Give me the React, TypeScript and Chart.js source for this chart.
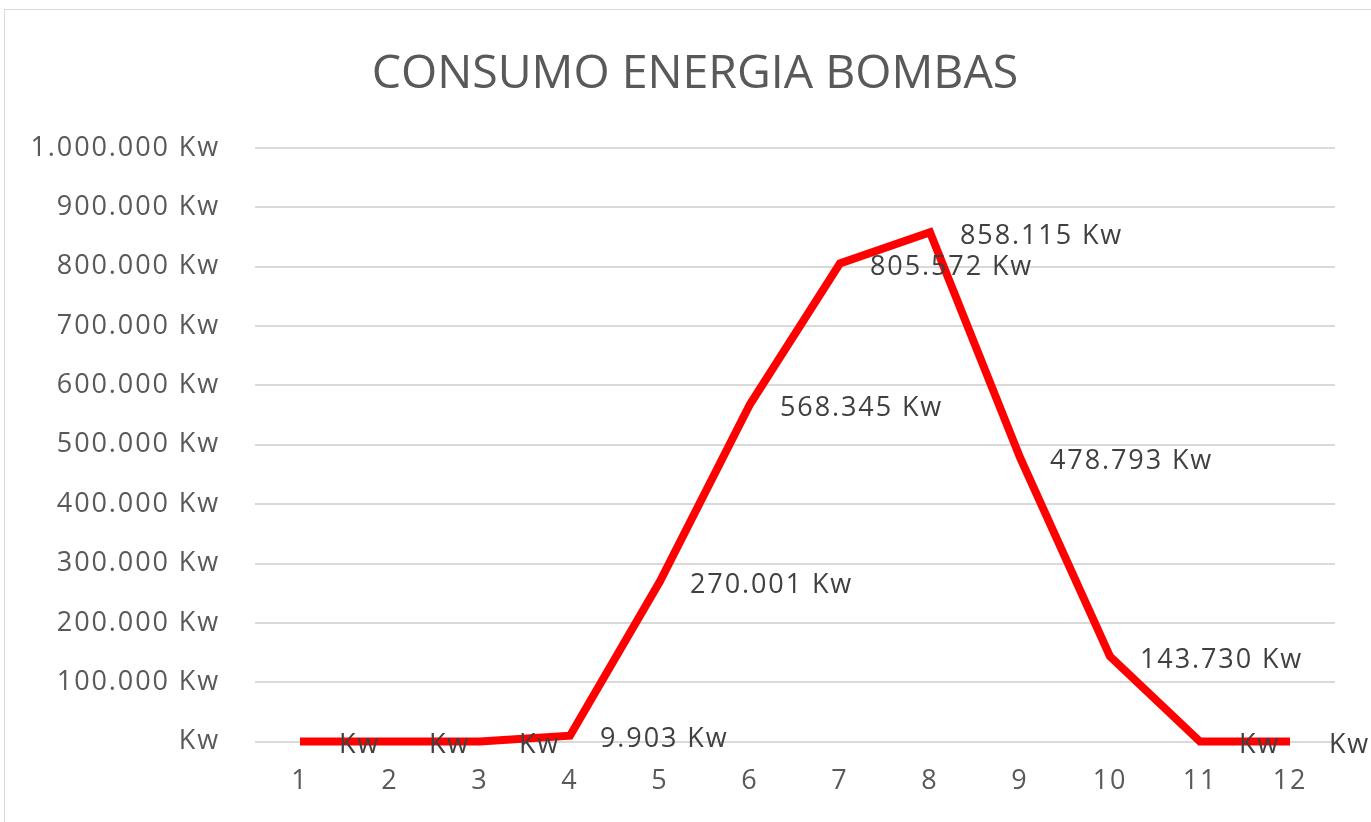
import React, { useEffect, useRef } from 'react';
import { Chart, registerables } from 'chart.js';

Chart.register(...registerables);

const categories = ['1', '2', '3', '4', '5', '6', '7', '8', '9', '10', '11', '12'];
const consumo = [0, 0, 0, 9903, 270001, 568345, 805572, 858115, 478793, 143730, 0, 0];
const yMin = 0;
const yMax = 1000000;
const yStep = 100000;
const unit = 'Kw';
const chartTitle = 'CONSUMO ENERGIA BOMBAS';

const LETTER_SPACING = '1.9px';
const FONT_FAMILY = '"Open Sans", "Noto Sans", sans-serif';
const TEXT_SIZE = 27;

function fmt(v: number): string {
  if (v === 0) return '';
  return String(Math.round(v)).replace(/\B(?=(\d{3})+(?!\d))/g, '.');
}

const customPlugin = {
  id: 'customDecor',
  beforeLayout(chart: any) {
    chart.ctx.letterSpacing = LETTER_SPACING;
  },
  beforeDraw(chart: any) {
    chart.ctx.letterSpacing = LETTER_SPACING;
  },
  afterDatasetsDraw(chart: any) {
    const ctx = chart.ctx;
    const meta = chart.getDatasetMeta(0);
    const values = chart.data.datasets[0].data as number[];
    ctx.save();
    ctx.letterSpacing = LETTER_SPACING;
    ctx.font = `${TEXT_SIZE}px ${FONT_FAMILY}`;
    ctx.fillStyle = '#404040';
    ctx.textAlign = 'left';
    ctx.textBaseline = 'middle';
    meta.data.forEach((pt: any, i: number) => {
      const text = `${fmt(values[i])} ${unit}`;
      ctx.fillText(text, pt.x + 30, pt.y + 4);
    });
    ctx.restore();
  },
  afterDraw(chart: any) {
    const ctx = chart.ctx;
    ctx.save();
    ctx.letterSpacing = '0px';
    ctx.font = `46.5px ${FONT_FAMILY}`;
    ctx.fillStyle = '#595959';
    ctx.textAlign = 'center';
    ctx.textBaseline = 'middle';
    ctx.fillText(chartTitle, 695, 75);
    ctx.restore();
  },
};

export default function App() {
  const canvasRef = useRef<HTMLCanvasElement | null>(null);

  useEffect(() => {
    const canvas = canvasRef.current;
    if (!canvas) return;
    const chart = new Chart(canvas, {
      type: 'line',
      data: {
        labels: categories,
        datasets: [
          {
            data: consumo,
            borderColor: '#ff0000',
            backgroundColor: '#ff0000',
            borderWidth: 8,
            borderJoinStyle: 'miter',
            borderCapStyle: 'butt',
            pointRadius: 0,
            pointHoverRadius: 0,
            tension: 0,
            fill: false,
            clip: false as any,
          },
        ],
      },
      options: {
        responsive: false,
        animation: false,
        devicePixelRatio: 1,
        events: [],
        layout: { padding: { top: 148, right: 36, bottom: 0, left: 0 } },
        plugins: {
          legend: { display: false },
          title: { display: false },
          tooltip: { enabled: false },
        },
        scales: {
          x: {
            type: 'category',
            offset: true,
            grid: { display: false, drawTicks: false },
            border: { display: false },
            ticks: {
              color: '#595959',
              font: { family: FONT_FAMILY, size: TEXT_SIZE },
              padding: 24,
              maxRotation: 0,
              autoSkip: false,
            },
          },
          y: {
            min: yMin,
            max: yMax,
            grid: { color: '#d9d9d9', lineWidth: 2, drawTicks: false },
            border: { display: false },
            afterFit(scale: any) {
              scale.width = 255;
            },
            ticks: {
              stepSize: yStep,
              color: '#595959',
              font: { family: FONT_FAMILY, size: TEXT_SIZE },
              padding: 35,
              callback: (v: any) => `${fmt(Number(v))} ${unit}`.trim(),
            },
          },
        },
      },
      plugins: [customPlugin],
    });
    return () => chart.destroy();
  }, []);

  return (
    <div style={{ position: 'fixed', left: 0, top: 0, width: 1371, height: 822, background: '#ffffff', overflow: 'hidden' }}>
      <div
        style={{
          position: 'absolute',
          left: 4,
          top: 9,
          width: 1400,
          height: 900,
          border: '1px solid #d9d9d9',
          boxSizing: 'border-box',
        }}
      />
      <canvas ref={canvasRef} width={1371} height={822} style={{ position: 'absolute', left: 0, top: 0, width: 1371, height: 822 }} />
    </div>
  );
}
